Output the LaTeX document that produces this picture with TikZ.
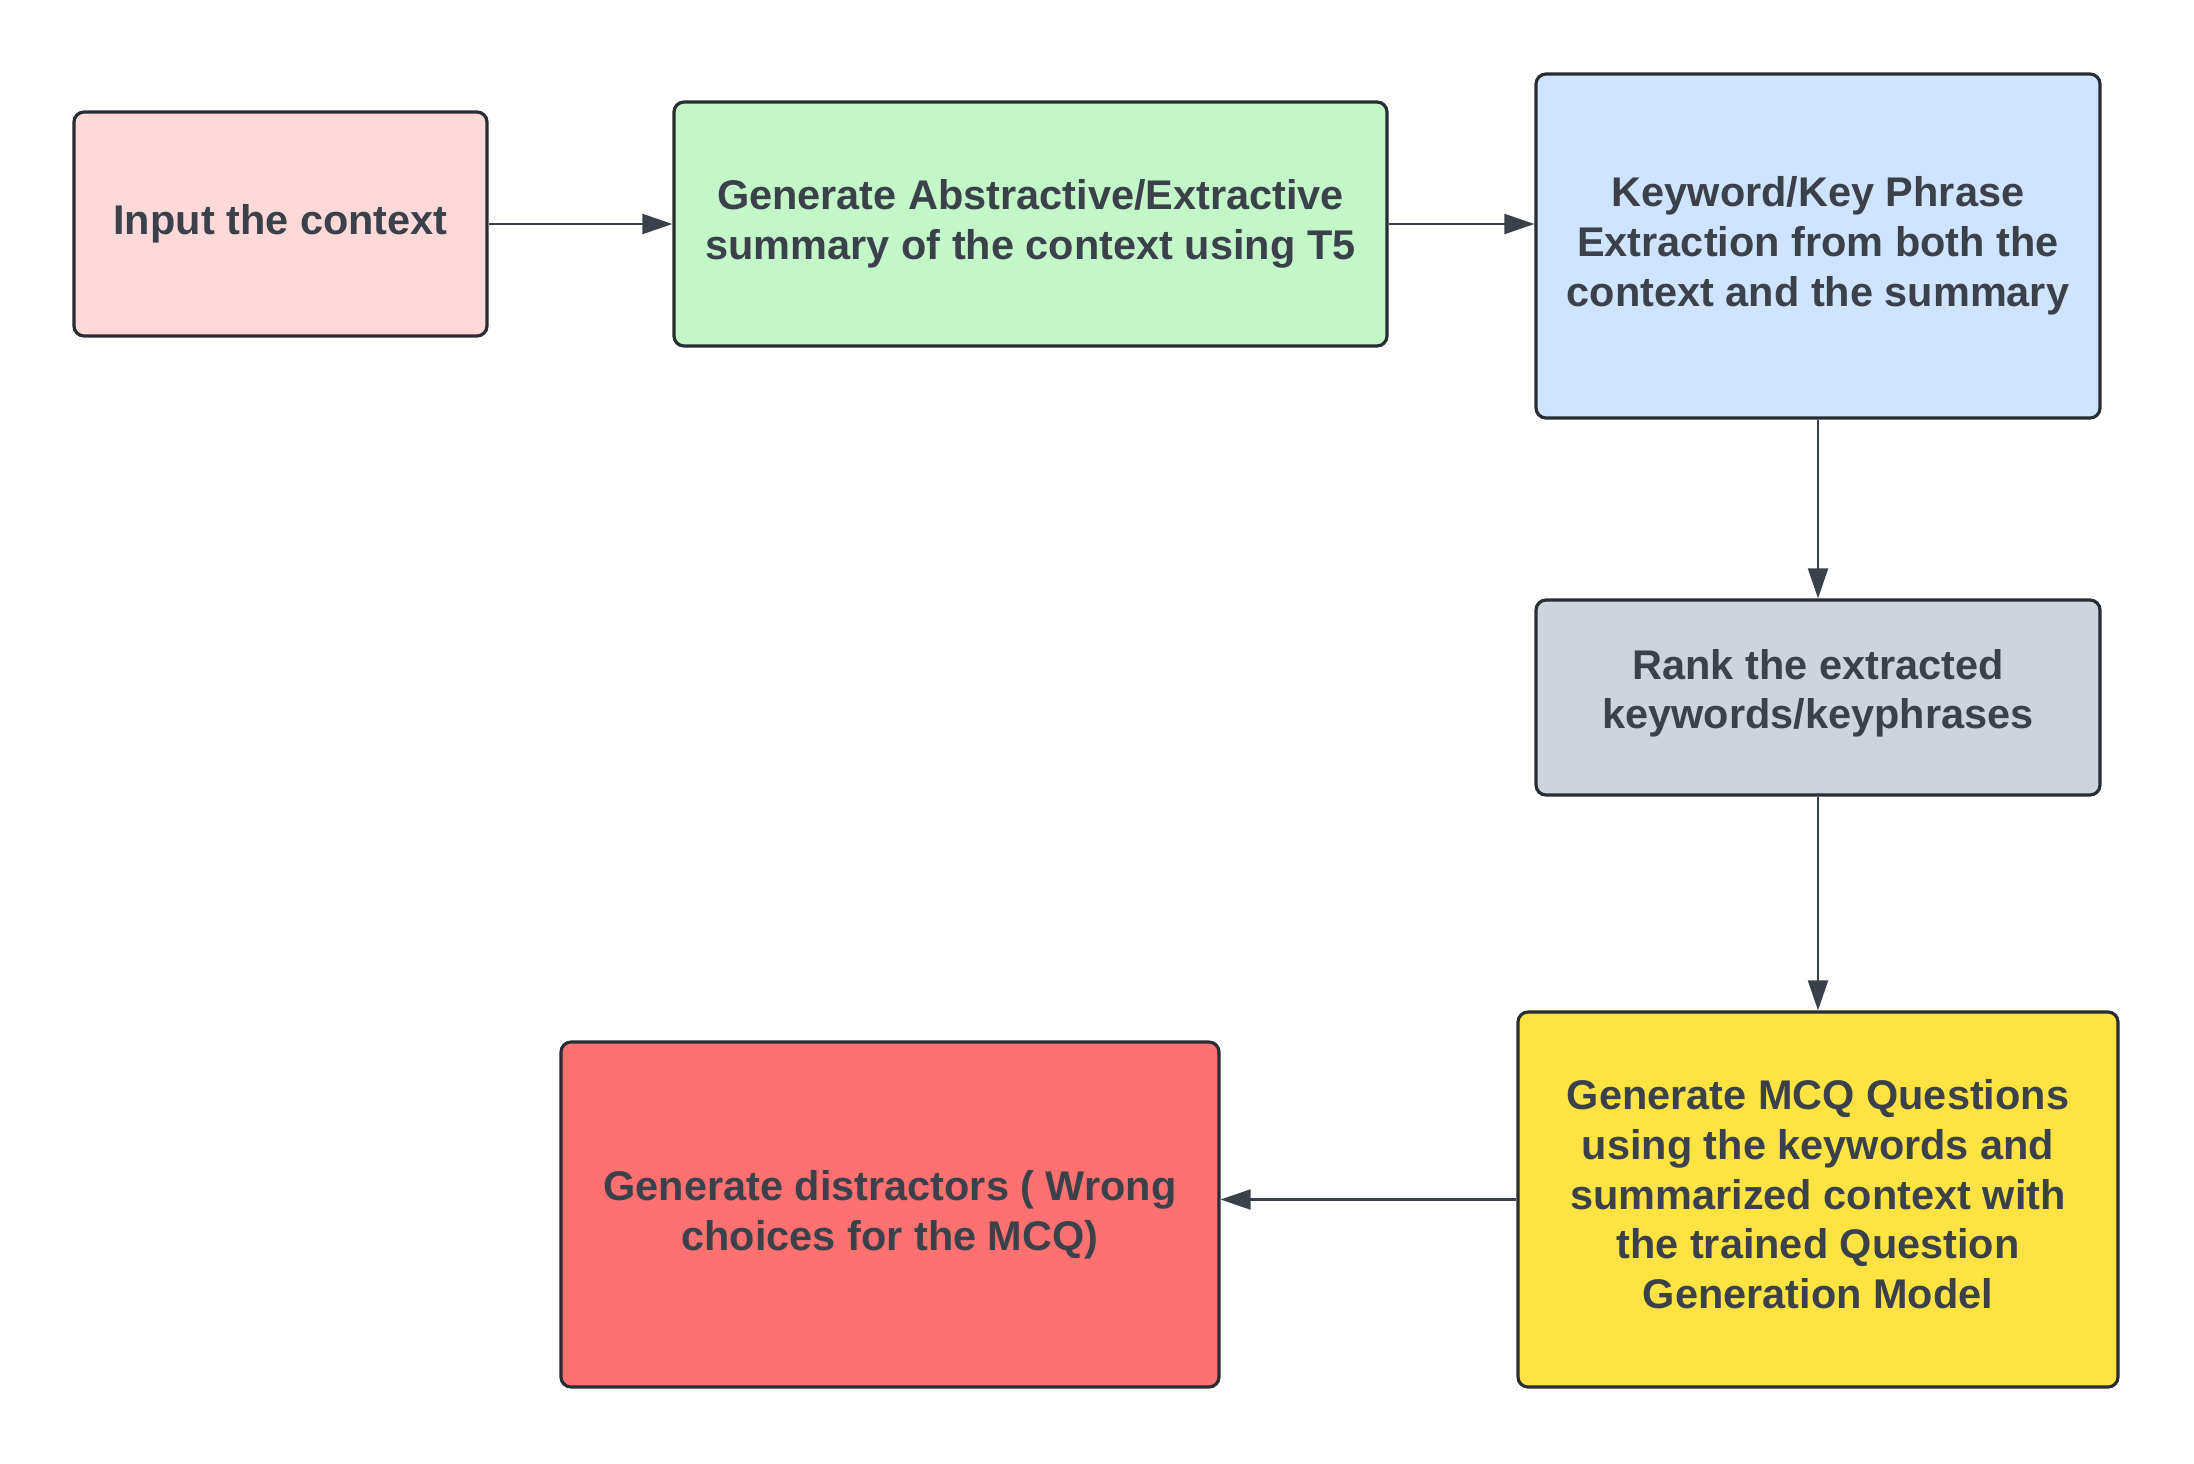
\documentclass[tikz,border=0pt]{standalone}
\usepackage{fontspec}
\setmainfont{Liberation Sans}
\usetikzlibrary{arrows.meta}
\definecolor{txt}{HTML}{3A414A}
\definecolor{edge}{HTML}{282C33}
\definecolor{cpink}{HTML}{FFD9D9}
\definecolor{cgreen}{HTML}{C3F7C8}
\definecolor{cblue}{HTML}{CFE4FF}
\definecolor{cgray}{HTML}{CED4DB}
\definecolor{cyellow}{HTML}{FFE342}
\definecolor{cred}{HTML}{FF7070}
\tikzset{
  procbox/.style={draw=edge, line width=0.9pt, rounded corners=0.1cm, align=center,
    text=txt, font=\fontsize{11.8}{14.2}\selectfont\bfseries, inner sep=0pt},
  flow/.style={draw=txt, line width=0.6pt, -{Triangle[length=0.3cm,width=0.2cm]}}
}
\begin{document}
\begin{tikzpicture}
\useasboundingbox (0,0) rectangle (21.94,-14.63);
\node[procbox, fill=cpink, minimum width=4.13cm, minimum height=2.24cm] (a) at (2.805,-2.24) {Input the context};
\node[procbox, fill=cgreen, minimum width=7.13cm, minimum height=2.44cm] (b) at (10.305,-2.24) {Generate Abstractive/Extractive\\summary of the context using T5};
\node[procbox, fill=cblue, minimum width=5.64cm, minimum height=3.44cm] (c) at (18.18,-2.46) {Keyword/Key Phrase\\Extraction from both the\\context and the summary};
\node[procbox, fill=cgray, minimum width=5.64cm, minimum height=1.95cm, text depth=0.17cm] (d) at (18.18,-6.975) {Rank the extracted\\keywords/keyphrases};
\node[procbox, fill=cyellow, minimum width=6.00cm, minimum height=3.75cm, text depth=0.11cm] (e) at (18.18,-11.995) {Generate MCQ Questions\\using the keywords and\\summarized context with\\the trained Question\\Generation Model};
\node[procbox, fill=cred, minimum width=6.58cm, minimum height=3.45cm] (f) at (8.90,-12.145) {Generate distractors ( Wrong\\choices for the MCQ)};
\draw[flow] (a) -- (b);
\draw[flow] (b) -- (b -| c.west);
\draw[flow] (c) -- (d);
\draw[flow] (d) -- (e);
\draw[flow] (e.west) -- (e.west -| f.east);
\end{tikzpicture}
\end{document}
